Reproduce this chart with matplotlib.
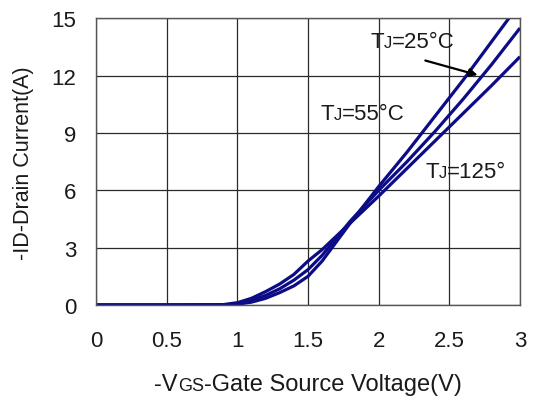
import matplotlib
matplotlib.use("Agg")
import matplotlib.pyplot as plt
from matplotlib.offsetbox import TextArea, HPacker, AnnotationBbox

plt.rcParams['font.family'] = ['Liberation Sans', 'DejaVu Sans']

# -VGS (V)
vgs = [0, 0.5, 0.9, 1.0, 1.1, 1.2, 1.3, 1.4, 1.5, 1.6, 1.7, 1.8, 1.9, 2.0, 2.2, 2.4, 2.6, 2.8, 3.0]
# -ID (A) for each junction temperature
id_25 = [0, 0, 0, 0.04, 0.15, 0.35, 0.65, 1.0, 1.5, 2.3, 3.3, 4.3, 5.25, 6.2, 8.0, 9.9, 11.8, 13.8, 15.8]
id_55 = [0, 0, 0, 0.07, 0.25, 0.5, 0.85, 1.3, 1.85, 2.6, 3.5, 4.4, 5.2, 6.0, 7.5, 9.1, 10.8, 12.6, 14.5]
id_125 = [0, 0, 0.02, 0.12, 0.35, 0.7, 1.1, 1.6, 2.3, 2.9, 3.6, 4.3, 5.0, 5.7, 7.15, 8.6, 10.05, 11.5, 13.0]

x_ticks = [0, 0.5, 1, 1.5, 2, 2.5, 3]
x_ticklabels = ['0', '0.5', '1', '1.5', '2', '2.5', '3']
y_ticks = [0, 3, 6, 9, 12, 15]

navy = '#0c0c86'

fig = plt.figure(figsize=(5.35, 4.02), dpi=100)
ax = fig.add_axes([0.1794, 0.2388, 0.7926, 0.7127])

for y in (id_25, id_55, id_125):
    ax.plot(vgs, y, color=navy, lw=2.3, solid_capstyle='butt')

ax.set_xlim(0, 3)
ax.set_ylim(0, 15)
ax.set_xticks(x_ticks)
ax.set_xticklabels(x_ticklabels)
ax.set_yticks(y_ticks)
ax.tick_params(length=0, labelsize=16, colors='#1a1a1a')
ax.tick_params(axis='x', pad=18)
ax.tick_params(axis='y', pad=14)
ax.grid(True, color='#2a2a2a', lw=0.9)
ax.set_axisbelow(True)
for s in ax.spines.values():
    s.set_color('#555555')
    s.set_linewidth(1.0)

ax.set_ylabel('-ID-Drain Current(A)', fontsize=15.5, color='#1a1a1a', labelpad=13)


def mixed_label(parts, xy, align, coords='data'):
    boxes = [TextArea(t, textprops=dict(size=s, color='#1a1a1a')) for t, s in parts]
    pack = HPacker(children=boxes, align='baseline', pad=0, sep=0)
    ab = AnnotationBbox(pack, xy, xycoords=coords, frameon=False,
                        box_alignment=align, pad=0, annotation_clip=False)
    ax.add_artist(ab)


mixed_label([('-V', 17), ('GS', 13), ('-Gate Source Voltage(V)', 17)],
            (0.5, -0.276), (0.5, 0.5), coords='axes fraction')

mixed_label([('T', 16), ('J', 12), ('=25°C', 16)], (1.94, 13.77), (0, 0.5))
mixed_label([('T', 16), ('J', 12), ('=55°C', 16)], (1.585, 10.0), (0, 0.5))
mixed_label([('T', 16), ('J', 12), ('=125°', 16)], (2.33, 7.0), (0, 0.5))

ax.annotate('', xy=(2.70, 12.04), xytext=(2.33, 12.8),
            arrowprops=dict(arrowstyle='-|>', color='black', lw=1.6,
                            mutation_scale=12, shrinkA=0, shrinkB=0))

fig.savefig('out.png', dpi=100)
